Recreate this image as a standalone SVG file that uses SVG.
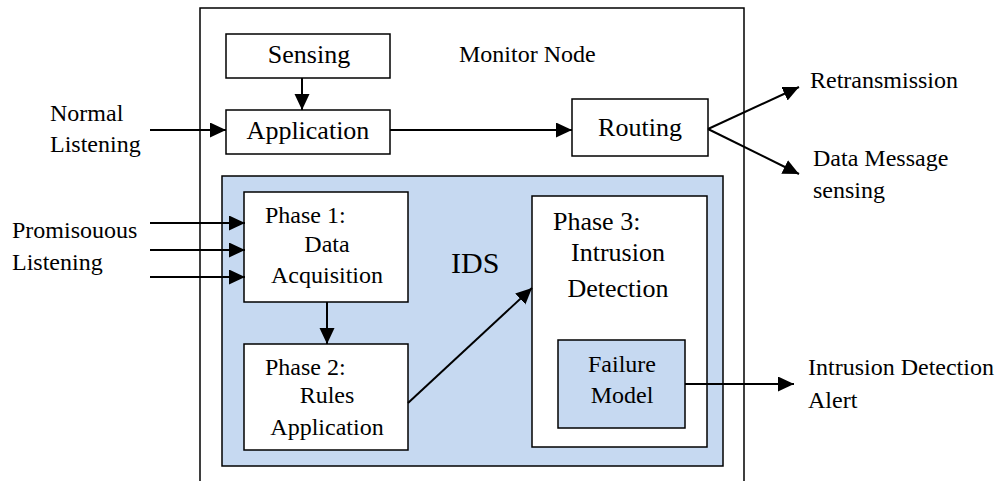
<svg xmlns="http://www.w3.org/2000/svg" width="1000" height="481" viewBox="0 0 1000 481">
<style>
svg g text{font-family:'Liberation Serif',serif;font-size:24px;fill:#000}
svg g text.big{font-size:26px}
.box{fill:#fff;stroke:#000;stroke-width:1.5}
.blue{fill:#c6d9f1;stroke:#000;stroke-width:1.5}
.c{text-anchor:middle}
.ln{stroke:#000;stroke-width:2;fill:none}
</style>
<defs>
<marker id="ah" markerUnits="userSpaceOnUse" markerWidth="17" markerHeight="16" refX="16" refY="7.5" orient="auto">
<path d="M0,0 L16,7.5 L0,15 z" fill="#000"/>
</marker>
</defs>
<g id="monitor-node">
<path d="M200,481 L200,8 L744,8 L744,481" fill="none" stroke="#000" stroke-width="1.5"/>
<text style="font-family:'Liberation Serif',serif" x="459" y="62">Monitor Node</text>
</g>
<g id="sensing">
<rect class="box" x="226" y="34" width="164" height="44"/>
<text style="font-family:'Liberation Serif',serif" class="c big" x="309" y="63">Sensing</text>
</g>
<g id="application">
<rect class="box" x="226" y="110" width="164" height="44"/>
<text style="font-family:'Liberation Serif',serif" class="c big" x="308" y="139">Application</text>
</g>
<g id="routing">
<rect class="box" x="572" y="99" width="136" height="57"/>
<text style="font-family:'Liberation Serif',serif" class="c big" x="640" y="136">Routing</text>
</g>
<g id="ids">
<rect class="blue" x="222" y="176" width="501" height="290"/>
<text style="font-family:'Liberation Serif',serif;font-size:30px" x="451" y="273">IDS</text>
</g>
<g id="phase1">
<rect class="box" x="244" y="192" width="164" height="110"/>
<text style="font-family:'Liberation Serif',serif" x="265" y="223">Phase 1:</text>
<text style="font-family:'Liberation Serif',serif" class="c" x="327" y="252">Data</text>
<text style="font-family:'Liberation Serif',serif" class="c" x="327" y="283">Acquisition</text>
</g>
<g id="phase2">
<rect class="box" x="244" y="344" width="164" height="106"/>
<text style="font-family:'Liberation Serif',serif" x="265" y="375">Phase 2:</text>
<text style="font-family:'Liberation Serif',serif" class="c" x="327" y="403">Rules</text>
<text style="font-family:'Liberation Serif',serif" class="c" x="327" y="435">Application</text>
</g>
<g id="phase3">
<rect class="box" x="532" y="196" width="175" height="251"/>
<text style="font-family:'Liberation Serif',serif" class="big" x="553" y="230">Phase 3:</text>
<text style="font-family:'Liberation Serif',serif" class="c big" x="618" y="261">Intrusion</text>
<text style="font-family:'Liberation Serif',serif" class="c big" x="618" y="297">Detection</text>
</g>
<g id="failure-model">
<rect class="blue" x="558" y="340" width="127" height="88"/>
<text style="font-family:'Liberation Serif',serif" class="c" x="622" y="372">Failure</text>
<text style="font-family:'Liberation Serif',serif" class="c" x="622" y="403">Model</text>
</g>
<g id="labels">
<text style="font-family:'Liberation Serif',serif" x="50" y="121">Normal</text>
<text style="font-family:'Liberation Serif',serif" x="50" y="152">Listening</text>
<text style="font-family:'Liberation Serif',serif" x="12" y="238">Promisouous</text>
<text style="font-family:'Liberation Serif',serif" x="12" y="270">Listening</text>
<text style="font-family:'Liberation Serif',serif" x="810" y="88">Retransmission</text>
<text style="font-family:'Liberation Serif',serif" x="813" y="166">Data Message</text>
<text style="font-family:'Liberation Serif',serif" x="813" y="198">sensing</text>
<text style="font-family:'Liberation Serif',serif" x="808" y="375">Intrusion Detection</text>
<text style="font-family:'Liberation Serif',serif" x="808" y="408">Alert</text>
</g>
<g id="connectors">
<line class="ln" x1="302" y1="78" x2="302" y2="110" marker-end="url(#ah)"/>
<line class="ln" x1="150" y1="130" x2="226" y2="130" marker-end="url(#ah)"/>
<line class="ln" x1="390" y1="130" x2="572" y2="130" marker-end="url(#ah)"/>
<line class="ln" x1="708" y1="129" x2="799" y2="87" marker-end="url(#ah)"/>
<line class="ln" x1="708" y1="129" x2="799" y2="174" marker-end="url(#ah)"/>
<line class="ln" x1="150" y1="223" x2="245" y2="223" marker-end="url(#ah)"/>
<line class="ln" x1="150" y1="250" x2="245" y2="250" marker-end="url(#ah)"/>
<line class="ln" x1="150" y1="277" x2="245" y2="277" marker-end="url(#ah)"/>
<line class="ln" x1="327" y1="302" x2="327" y2="344" marker-end="url(#ah)"/>
<line class="ln" x1="408" y1="403" x2="532" y2="288" marker-end="url(#ah)"/>
<line class="ln" x1="685" y1="384" x2="794" y2="384" marker-end="url(#ah)"/>
</g>
</svg>
